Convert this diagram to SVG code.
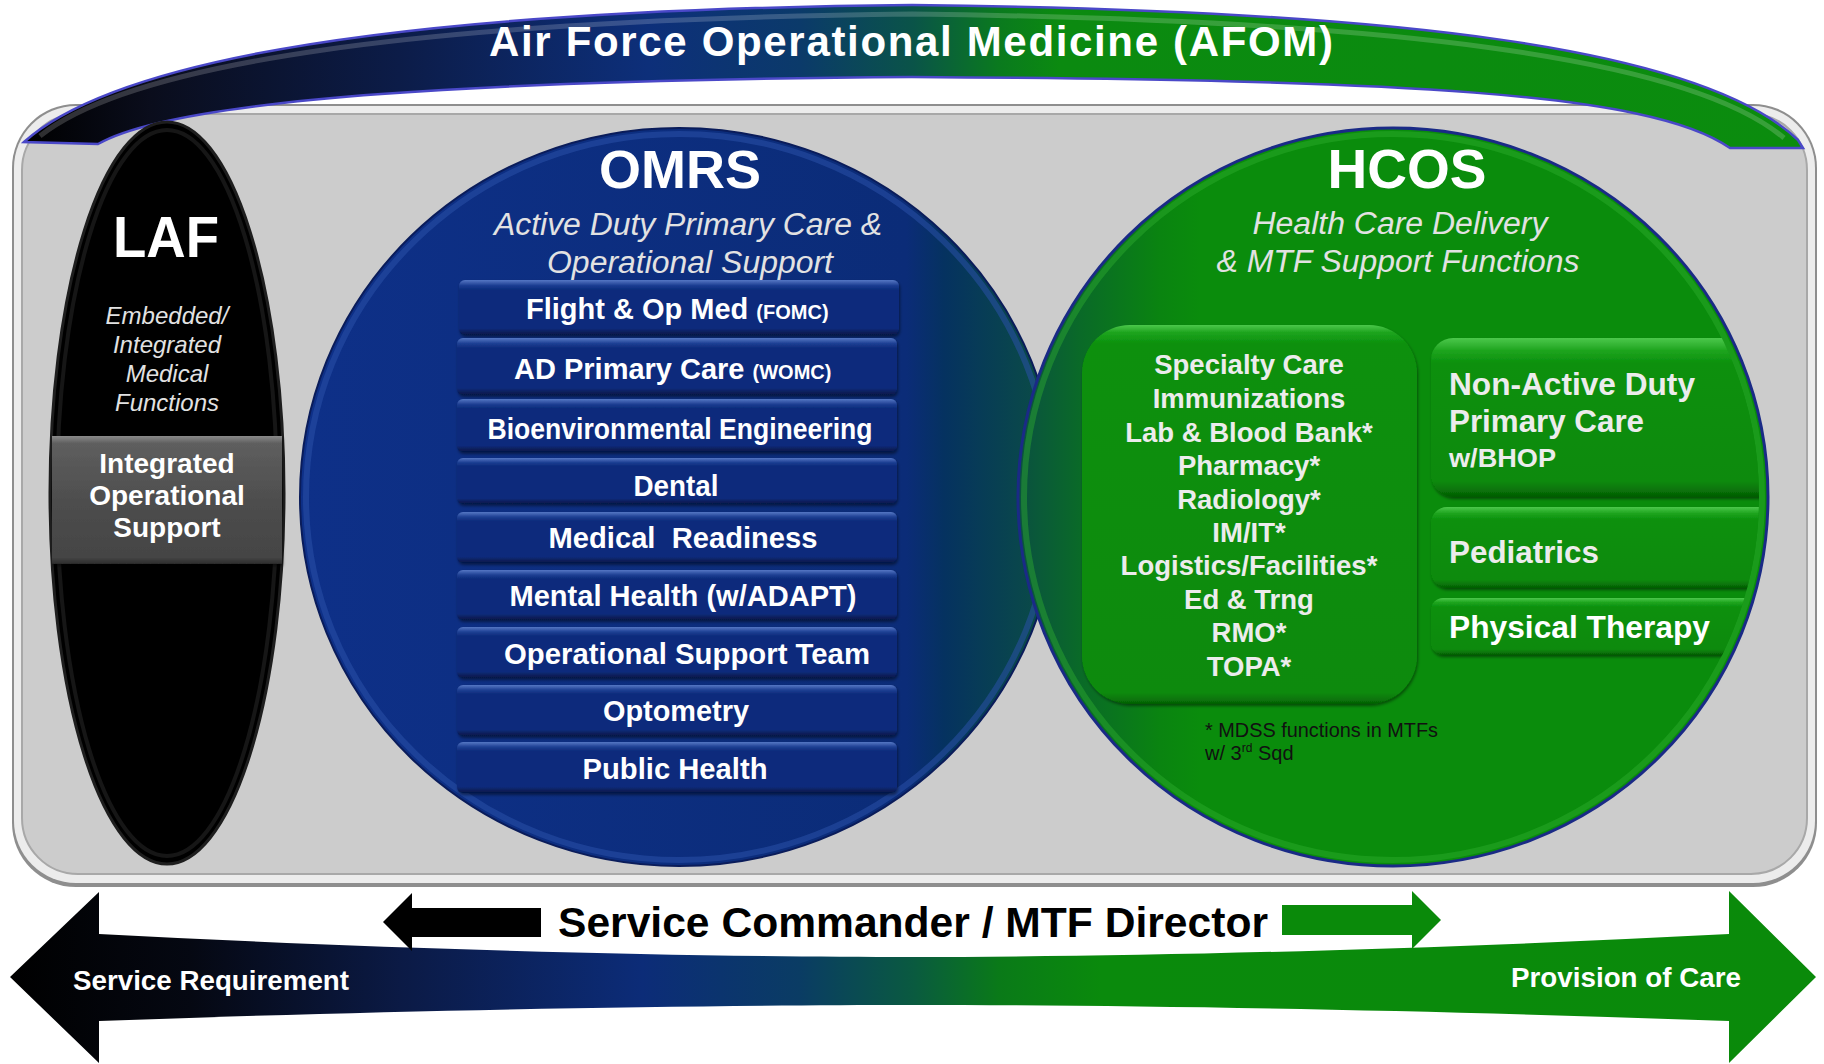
<svg xmlns="http://www.w3.org/2000/svg" width="1824" height="1064" viewBox="0 0 1824 1064">
<style>
.b{font-family:"Liberation Sans",Arial,sans-serif;font-weight:bold;fill:#ffffff}
.g{fill:#ececec}
.it{font-family:"Liberation Sans",Arial,sans-serif;font-style:italic;fill:#e2e2e2}
.mid{text-anchor:middle}
.bar{fill:url(#barGrad)}
.note{font-family:"Liberation Sans",Arial,sans-serif;fill:#111111;font-size:20px}
</style>
<defs>
<linearGradient id="bandGrad" gradientUnits="userSpaceOnUse" x1="26" y1="0" x2="1802" y2="0">
<stop offset="0" stop-color="#000000"/><stop offset="0.07" stop-color="#0a0d1c"/><stop offset="0.21" stop-color="#0c1c48"/><stop offset="0.35" stop-color="#0d2f7a"/><stop offset="0.436" stop-color="#0b3a6a"/><stop offset="0.5" stop-color="#0a5448"/><stop offset="0.548" stop-color="#0a7a1e"/><stop offset="0.582" stop-color="#0b8a10"/><stop offset="1" stop-color="#0b8c0e"/>
</linearGradient>
<linearGradient id="arrowGrad" gradientUnits="userSpaceOnUse" x1="10" y1="0" x2="1816" y2="0">
<stop offset="0" stop-color="#000000"/><stop offset="0.1" stop-color="#050812"/><stop offset="0.216" stop-color="#0b1a45"/><stop offset="0.35" stop-color="#0c2c78"/><stop offset="0.437" stop-color="#0a3c64"/><stop offset="0.5" stop-color="#0a5a40"/><stop offset="0.548" stop-color="#0a7a18"/><stop offset="0.604" stop-color="#0a8a0c"/><stop offset="1" stop-color="#0a8a0a"/>
</linearGradient>
<linearGradient id="omrsGrad" gradientUnits="userSpaceOnUse" x1="300" y1="0" x2="1058" y2="0">
<stop offset="0" stop-color="#0e3088"/><stop offset="0.8" stop-color="#0b2c78"/><stop offset="0.85" stop-color="#053260"/><stop offset="0.97" stop-color="#0a4a48"/><stop offset="1" stop-color="#0a4e44"/>
</linearGradient>
<linearGradient id="hcosGrad" gradientUnits="userSpaceOnUse" x1="1018" y1="0" x2="1768" y2="0">
<stop offset="0" stop-color="#0a5040"/><stop offset="0.03" stop-color="#0a5a38"/><stop offset="0.083" stop-color="#0a6a28"/><stop offset="0.19" stop-color="#0a8410"/><stop offset="0.243" stop-color="#0a8c0c"/><stop offset="1" stop-color="#0a8c0c"/>
</linearGradient>
<linearGradient id="barGrad" x1="0" y1="0" x2="0" y2="1">
<stop offset="0" stop-color="#5577c4"/><stop offset="0.1" stop-color="#1d3e92"/><stop offset="0.18" stop-color="#0b2b7b"/><stop offset="0.88" stop-color="#0b2b7b"/><stop offset="0.94" stop-color="#08205e"/><stop offset="1" stop-color="#061848"/>
</linearGradient>
<linearGradient id="gboxGrad" x1="0" y1="0" x2="0" y2="1">
<stop offset="0" stop-color="#4cc84c"/><stop offset="0.08" stop-color="#1ea41e"/><stop offset="0.16" stop-color="#0a900c"/><stop offset="0.9" stop-color="#0a8a0a"/><stop offset="0.96" stop-color="#077207"/><stop offset="1" stop-color="#055c05"/>
</linearGradient>
<linearGradient id="gbigGrad" x1="0" y1="0" x2="0" y2="1">
<stop offset="0" stop-color="#4cc84c"/><stop offset="0.02" stop-color="#1ea41e"/><stop offset="0.05" stop-color="#0a900c"/><stop offset="0.97" stop-color="#0a8a0a"/><stop offset="0.99" stop-color="#077207"/><stop offset="1" stop-color="#055c05"/>
</linearGradient>
<linearGradient id="iosGrad" x1="0" y1="0" x2="0" y2="1">
<stop offset="0" stop-color="#8a8a8a"/><stop offset="0.06" stop-color="#5e5e5e"/><stop offset="0.5" stop-color="#4e4e4e"/><stop offset="0.95" stop-color="#444444"/><stop offset="1" stop-color="#2a2a2a"/>
</linearGradient>
<clipPath id="hcosClip"><ellipse cx="1393" cy="497" rx="366" ry="362"/></clipPath>
<filter id="sh" x="-5%" y="-5%" width="110%" height="120%"><feDropShadow dx="1" dy="2" stdDeviation="1.5" flood-color="#000" flood-opacity="0.45"/></filter>
</defs>

<g id="panel">
<rect x="12" y="104" width="1805" height="783" rx="64" fill="#8e8e8e"/>
<rect x="14" y="106" width="1801" height="777" rx="62" fill="#ececec"/>
<rect x="22" y="114" width="1785" height="760" rx="56" fill="#cccccc" stroke="#a8a8a8" stroke-width="2"/>
</g>

<g id="banner">
<path d="M24,142 C118,58 400,10 912,5 C1400,10 1702,48 1798,140 L1803,148 L1730,148 C1650,92 1400,80 912,77 C500,80 180,97 98,144 Z" fill="url(#bandGrad)" stroke="#4a48c8" stroke-width="2.5"/>
<path d="M40,136 C130,64 410,20 912,14 C1395,20 1690,58 1784,138" fill="none" stroke="#ffffff" stroke-opacity="0.18" stroke-width="5"/>
<text class="b mid" x="911" y="56" font-size="42" textLength="844" lengthAdjust="spacing">Air Force Operational Medicine (AFOM)</text>
</g>

<g id="laf">
<ellipse cx="167" cy="493" rx="117" ry="371" fill="#000000" stroke="#1e1e1e" stroke-width="3"/>
<ellipse cx="167" cy="493" rx="110" ry="363" fill="none" stroke="#161616" stroke-width="4"/>
<text class="b mid" x="166" y="257" font-size="58" textLength="106" lengthAdjust="spacingAndGlyphs">LAF</text>
<text class="it mid" x="167" y="324" font-size="24">Embedded/</text>
<text class="it mid" x="167" y="353" font-size="24">Integrated</text>
<text class="it mid" x="167" y="382" font-size="24">Medical</text>
<text class="it mid" x="167" y="411" font-size="24">Functions</text>
<g id="laf-ios">
<rect x="52" y="436" width="230" height="128" fill="url(#iosGrad)" filter="url(#sh)"/>
<text class="b mid" x="167" y="473" font-size="28">Integrated</text>
<text class="b mid" x="167" y="505" font-size="28">Operational</text>
<text class="b mid" x="167" y="537" font-size="28">Support</text>
</g>
</g>

<g id="omrs">
<ellipse cx="679" cy="497" rx="379" ry="369" fill="url(#omrsGrad)" stroke="#0a1c5a" stroke-width="2"/>
<ellipse cx="679" cy="497" rx="373" ry="363" fill="none" stroke="#2a50a8" stroke-opacity="0.55" stroke-width="6"/>
<text class="b mid" x="680" y="188" font-size="54">OMRS</text>
<text class="it mid" x="688" y="235" font-size="31" textLength="388" lengthAdjust="spacingAndGlyphs">Active Duty Primary Care &amp;</text>
<text class="it mid" x="690" y="273" font-size="31" textLength="286" lengthAdjust="spacingAndGlyphs">Operational Support</text>
<g filter="url(#sh)">
<rect class="bar" x="459" y="280" width="440" height="55" rx="6"/>
<rect class="bar" x="457" y="338" width="440" height="57" rx="6"/>
<rect class="bar" x="457" y="399" width="440" height="53" rx="6"/>
<rect class="bar" x="457" y="458" width="440" height="46" rx="6"/>
<rect class="bar" x="457" y="512" width="440" height="51" rx="6"/>
<rect class="bar" x="457" y="570" width="440" height="50" rx="6"/>
<rect class="bar" x="457" y="627" width="440" height="51" rx="6"/>
<rect class="bar" x="457" y="685" width="440" height="51" rx="6"/>
<rect class="bar" x="457" y="742" width="440" height="51" rx="6"/>
</g>
<text class="b" x="526" y="319" font-size="29">Flight &amp; Op Med <tspan font-size="20">(FOMC)</tspan></text>
<text class="b" x="514" y="379" font-size="29">AD Primary Care <tspan font-size="20">(WOMC)</tspan></text>
<text class="b mid" x="680" y="439" font-size="29" textLength="385" lengthAdjust="spacingAndGlyphs">Bioenvironmental Engineering</text>
<text class="b mid" x="676" y="496" font-size="29" textLength="85" lengthAdjust="spacingAndGlyphs">Dental</text>
<text class="b mid" x="683" y="548" font-size="29" textLength="269" lengthAdjust="spacingAndGlyphs" style="white-space:pre" xml:space="preserve">Medical  Readiness</text>
<text class="b mid" x="683" y="606" font-size="29" textLength="347" lengthAdjust="spacingAndGlyphs">Mental Health (w/ADAPT)</text>
<text class="b mid" x="687" y="664" font-size="29" textLength="366" lengthAdjust="spacingAndGlyphs">Operational Support Team</text>
<text class="b mid" x="676" y="721" font-size="29" textLength="146" lengthAdjust="spacingAndGlyphs">Optometry</text>
<text class="b mid" x="675" y="779" font-size="29" textLength="185" lengthAdjust="spacingAndGlyphs">Public Health</text>
</g>

<g id="hcos">
<ellipse cx="1393" cy="497" rx="375" ry="369" fill="url(#hcosGrad)" stroke="#1a2a86" stroke-width="3"/>
<ellipse cx="1393" cy="497" rx="369" ry="363" fill="none" stroke="#2eae2e" stroke-opacity="0.45" stroke-width="6"/>
<text class="b mid" x="1407" y="188" font-size="55">HCOS</text>
<text class="it mid" x="1400" y="234" font-size="31" textLength="295" lengthAdjust="spacingAndGlyphs">Health Care Delivery</text>
<text class="it mid" x="1398" y="272" font-size="31" textLength="363" lengthAdjust="spacingAndGlyphs">&amp; MTF Support Functions</text>
<g id="hcos-specialty">
<rect x="1082" y="325" width="335" height="379" rx="48" fill="url(#gbigGrad)" filter="url(#sh)"/>
<text class="b g mid" x="1249" y="374" font-size="27.5">Specialty Care</text>
<text class="b g mid" x="1249" y="408" font-size="27.5">Immunizations</text>
<text class="b g mid" x="1249" y="442" font-size="27.5">Lab &amp; Blood Bank*</text>
<text class="b g mid" x="1249" y="475" font-size="27.5">Pharmacy*</text>
<text class="b g mid" x="1249" y="509" font-size="27.5">Radiology*</text>
<text class="b g mid" x="1249" y="542" font-size="27.5">IM/IT*</text>
<text class="b g mid" x="1249" y="575" font-size="27.5">Logistics/Facilities*</text>
<text class="b g mid" x="1249" y="609" font-size="27.5">Ed &amp; Trng</text>
<text class="b g mid" x="1249" y="642" font-size="27.5">RMO*</text>
<text class="b g mid" x="1249" y="676" font-size="27.5">TOPA*</text>
</g>
<g clip-path="url(#hcosClip)">
<g filter="url(#sh)">
<rect x="1431" y="338" width="400" height="159" rx="22" fill="url(#gboxGrad)"/>
<rect x="1431" y="507" width="400" height="81" rx="16" fill="url(#gboxGrad)"/>
<rect x="1431" y="598" width="400" height="57" rx="12" fill="url(#gboxGrad)"/>
</g>
</g>
<text class="b g" x="1449" y="395" font-size="31" textLength="246" lengthAdjust="spacingAndGlyphs">Non-Active Duty</text>
<text class="b g" x="1449" y="432" font-size="31" textLength="195" lengthAdjust="spacingAndGlyphs">Primary Care</text>
<text class="b g" x="1449" y="467" font-size="25" textLength="107" lengthAdjust="spacingAndGlyphs">w/BHOP</text>
<text class="b g" x="1449" y="563" font-size="31" textLength="150" lengthAdjust="spacingAndGlyphs">Pediatrics</text>
<text class="b" x="1449" y="638" font-size="31" textLength="261" lengthAdjust="spacingAndGlyphs">Physical Therapy</text>
<text class="note" x="1205" y="737" textLength="233" lengthAdjust="spacingAndGlyphs">* MDSS functions in MTFs</text>
<text class="note" x="1205" y="760">w/ 3<tspan font-size="12" dy="-8">rd</tspan><tspan dy="8"> Sqd</tspan></text>
</g>

<g id="connectors">
<path d="M10,977 L99,892 L99,934 C400,950 700,957 912,957 C1124,957 1424,950 1729,934 L1729,891 L1816,977 L1729,1063 L1729,1021 C1424,1010 1124,1005 912,1005 C700,1005 400,1010 99,1021 L99,1063 Z" fill="url(#arrowGrad)"/>
<path d="M383,922 L412,893 L412,908 L541,908 L541,937 L412,937 L412,951 Z" fill="#000000"/>
<path d="M1282,905 L1412,905 L1412,891 L1441,920 L1412,949 L1412,935 L1282,935 Z" fill="#0a8a0a"/>
<text class="b" x="73" y="990" font-size="27" textLength="276" lengthAdjust="spacingAndGlyphs">Service Requirement</text>
<text class="b" x="1511" y="987" font-size="27" textLength="230" lengthAdjust="spacingAndGlyphs">Provision of Care</text>
<text class="b mid" x="913" y="937" font-size="43" style="fill:#000000" textLength="710" lengthAdjust="spacingAndGlyphs">Service Commander / MTF Director</text>
</g>
</svg>
